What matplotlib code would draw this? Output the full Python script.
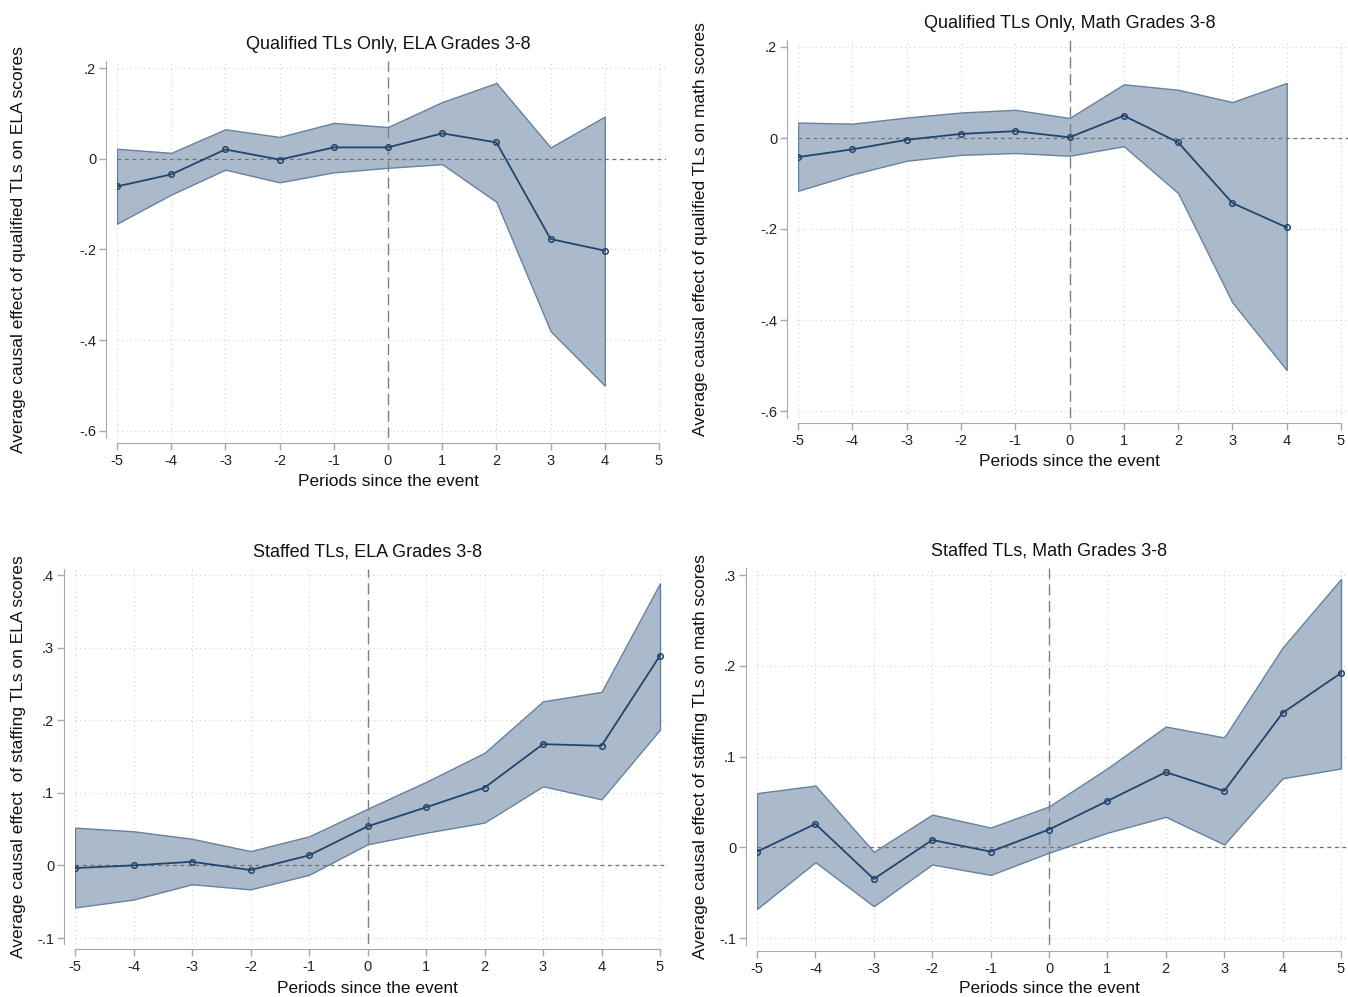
import numpy as np
import matplotlib
matplotlib.use('Agg')
import matplotlib.pyplot as plt
from matplotlib import transforms

plt.rcParams['font.family'] = ['Liberation Sans', 'DejaVu Sans']

# periods since the event
periods_q = [-5, -4, -3, -2, -1, 0, 1, 2, 3, 4]
periods_s = [-5, -4, -3, -2, -1, 0, 1, 2, 3, 4, 5]

# qualified TLs, ELA
q_ela = [-0.061, -0.0345, 0.0205, -0.002, 0.025, 0.025, 0.056, 0.036, -0.177, -0.2025]
q_ela_hi = [0.022, 0.013, 0.065, 0.048, 0.079, 0.070, 0.125, 0.167, 0.025, 0.093]
q_ela_lo = [-0.143, -0.079, -0.024, -0.052, -0.030, -0.020, -0.012, -0.095, -0.380, -0.500]

# qualified TLs, math
q_math = [-0.042, -0.025, -0.004, 0.009, 0.015, 0.0015, 0.049, -0.0095, -0.143, -0.1965]
q_math_hi = [0.034, 0.0315, 0.045, 0.056, 0.062, 0.044, 0.118, 0.106, 0.079, 0.121]
q_math_lo = [-0.116, -0.080, -0.050, -0.037, -0.033, -0.039, -0.018, -0.121, -0.3615, -0.510]

# staffed TLs, ELA
s_ela = [-0.0037, 0.0, 0.005, -0.0064, 0.0138, 0.0537, 0.080, 0.107, 0.167, 0.1647, 0.289]
s_ela_hi = [0.052, 0.047, 0.0367, 0.0197, 0.040, 0.078, 0.115, 0.155, 0.226, 0.239, 0.3885]
s_ela_lo = [-0.058, -0.047, -0.026, -0.033, -0.013, 0.029, 0.045, 0.059, 0.109, 0.091, 0.187]

# staffed TLs, math
s_math = [-0.0048, 0.0257, -0.035, 0.008, -0.0048, 0.0195, 0.051, 0.0827, 0.062, 0.148, 0.192]
s_math_hi = [0.0596, 0.068, -0.005, 0.036, 0.0217, 0.045, 0.087, 0.133, 0.121, 0.220, 0.2956]
s_math_lo = [-0.068, -0.0165, -0.065, -0.019, -0.0305, -0.006, 0.016, 0.0335, 0.003, 0.076, 0.0868]

xticks = [-5, -4, -3, -2, -1, 0, 1, 2, 3, 4, 5]
yticks_q = [-0.6, -0.4, -0.2, 0, 0.2]
ylabels_q = ['-.6', '-.4', '-.2', '0', '.2']
yticks_se = [-0.1, 0, 0.1, 0.2, 0.3, 0.4]
ylabels_se = ['-.1', '0', '.1', '.2', '.3', '.4']
yticks_sm = [-0.1, 0, 0.1, 0.2, 0.3]
ylabels_sm = ['-.1', '0', '.1', '.2', '.3']

W, H = 1348, 997
fig = plt.figure(figsize=(W / 100, H / 100), dpi=100)

FILL = '#aabaca'
EDGE = '#6582a0'
LINE = '#21466e'
AXC = '#a8a8a8'


def panel(px, py, ylab_x, x, y, lo, hi, title, ylab, yt, yl, ylim):
    # px: pixel positions of x=-5 and x=5, py: pixel positions of top / bottom tick
    x0, x1 = px
    ytop, ybot = py
    xr = (-5, 5.12)
    left = x0 / W
    width = (x1 - x0) / W * (xr[1] - xr[0]) / 10
    ppu = (ybot - ytop) / (yt[-1] - yt[0])
    y_hi = ytop - (ylim[1] - yt[-1]) * ppu
    y_lo = ybot + (yt[0] - ylim[0]) * ppu
    ax = fig.add_axes([left, 1 - y_lo / H, width, (y_lo - y_hi) / H])
    ax.set_xlim(*xr)
    ax.set_ylim(*ylim)

    ax.fill_between(x, lo, hi, facecolor=FILL, edgecolor=EDGE, linewidth=1.0, zorder=2)
    ax.plot(x, y, color=LINE, linewidth=1.3, marker='o', markersize=4,
            markerfacecolor='none', markeredgecolor=LINE, markeredgewidth=1.1, zorder=3)
    ax.axhline(0, color='#707070', linestyle=(0, (3, 3)), linewidth=0.9, zorder=2.5)
    ax.axvline(0, color='#808080', linestyle=(0, (8, 4)), linewidth=1.0, zorder=2.5)

    ax.set_xticks(xticks)
    ax.set_xticklabels([str(t) for t in xticks])
    ax.set_yticks(yt)
    ax.set_yticklabels(yl)
    ax.grid(True, color='#d0d0d0', linestyle=(0, (1, 3)), linewidth=0.8, zorder=0)
    ax.set_axisbelow(True)

    for s in ['top', 'right']:
        ax.spines[s].set_visible(False)
    ax.spines['left'].set_position(('outward', 8))
    ax.spines['bottom'].set_position(('outward', 4))
    ax.spines['left'].set_color(AXC)
    ax.spines['bottom'].set_color(AXC)
    ax.spines['bottom'].set_bounds(-5, 5)
    ax.tick_params(colors=AXC, labelcolor='#222222', labelsize=10.5, length=5, width=1)
    ax.tick_params(axis='x', pad=3)
    ax.tick_params(axis='y', pad=2)

    xc = (0 - xr[0]) / (xr[1] - xr[0])
    ax.set_title(title, fontsize=13, color='#111111', pad=9, x=xc)
    ax.set_xlabel('Periods since the event', fontsize=12.5, color='#111111')
    ax.xaxis.set_label_coords(xc, -(ybot + 43 - y_lo) / (y_lo - y_hi))
    ax.set_ylabel(ylab, fontsize=12.5, color='#111111')
    tr = transforms.blended_transform_factory(fig.transFigure, ax.transAxes)
    ax.yaxis.set_label_coords((ylab_x + 8) / W, 0.5, transform=tr)
    return ax


panel((117, 659), (68, 431), 18, periods_q, q_ela, q_ela_lo, q_ela_hi,
      'Qualified TLs Only, ELA Grades 3-8',
      'Average causal effect of qualified TLs on ELA scores',
      yticks_q, ylabels_q, (-0.615, 0.215))
panel((798, 1341), (47, 411), 700, periods_q, q_math, q_math_lo, q_math_hi,
      'Qualified TLs Only, Math Grades 3-8',
      'Average causal effect of qualified TLs on math scores',
      yticks_q, ylabels_q, (-0.615, 0.215))
panel((75, 660), (575, 938), 18, periods_s, s_ela, s_ela_lo, s_ela_hi,
      'Staffed TLs, ELA Grades 3-8',
      'Average causal effect  of staffing TLs on ELA scores',
      yticks_se, ylabels_se, (-0.108, 0.408))
panel((757, 1341), (575, 938), 700, periods_s, s_math, s_math_lo, s_math_hi,
      'Staffed TLs, Math Grades 3-8',
      'Average causal effect of staffing TLs on math scores',
      yticks_sm, ylabels_sm, (-0.108, 0.308))

fig.savefig('out.png', dpi=100, facecolor='white')
